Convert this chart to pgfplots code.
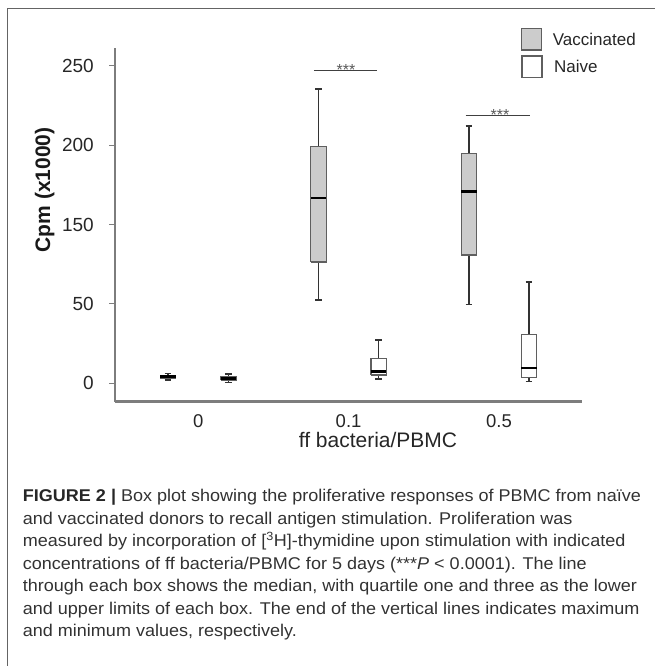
\documentclass[border=0pt]{standalone}
\usepackage{fontspec}
\setmainfont{Liberation Sans}
\newfontfamily\capfont{Liberation Sans}[FakeStretch=1.06]
\usepackage{pgfplots}
\pgfplotsset{compat=1.18}
\definecolor{boxgray}{RGB}{204,204,204}
\definecolor{edgegray}{RGB}{95,95,95}
\definecolor{axisgray}{RGB}{125,125,125}
\definecolor{captext}{RGB}{50,50,50}
\definecolor{framegray}{RGB}{100,100,100}
\pgfplotsset{
  whisk/.style={draw=black!80, line width=1.4pt, no marks},
  boxst/.style={draw=edgegray, line width=1.3pt, line join=miter, no marks},
  medst/.style={draw=black, line width=2.4pt, no marks},
}
% box: center, lower whisker, q1, median, q3, upper whisker, fill
\newcommand\bx[7]{%
  \pgfmathsetmacro\bxL{#1-0.0515}\pgfmathsetmacro\bxR{#1+0.0515}%
  \pgfmathsetmacro\bxCL{#1-0.0225}\pgfmathsetmacro\bxCR{#1+0.0225}%
  \addplot[whisk] coordinates {(#1,#2) (#1,#3)};
  \addplot[whisk] coordinates {(#1,#5) (#1,#6)};
  \addplot[whisk] coordinates {(\bxCL,#2) (\bxCR,#2)};
  \addplot[whisk] coordinates {(\bxCL,#6) (\bxCR,#6)};
  \addplot[boxst, fill=#7] coordinates {(\bxL,#3) (\bxR,#3) (\bxR,#5) (\bxL,#5) (\bxL,#3)};
  \addplot[medst] coordinates {(\bxL,#4) (\bxR,#4)};
}
\begin{document}
\begin{tikzpicture}
\useasboundingbox (0pt,0pt) rectangle (655pt,666pt);
\draw[framegray, line width=1.3pt] (7.3pt,0pt) -- (7.3pt,657.7pt) -- (655pt,657.7pt);
\begin{axis}[
  at={(115pt,264.3pt)}, anchor=south west,
  scale only axis, width=466.7pt, height=353.4pt,
  xmin=-0.553, xmax=2.55, ymin=-11.6, ymax=211,
  axis lines=left,
  axis line style={-, draw=axisgray, line width=2.4pt},
  xtick={0,1,2}, xticklabels={0,0.1,0.5},
  xtick style={draw=none},
  ytick={0,50,100,150,200}, yticklabels={0,50,150,200,250},
  ytick style={draw=axisgray, line width=1.2pt},
  tick align=outside, major tick length=6pt,
  yticklabel style={font=\fontsize{19}{20}\selectfont, text=black!85, inner sep=0pt, anchor=east, xshift=-15pt},
  xticklabel style={font=\fontsize{18.5}{20}\selectfont, text=black!85, inner sep=0pt, anchor=center, yshift=-13pt},
  clip=false,
]
% group 0
\bx{-0.2}{2.1}{3.3}{4.2}{4.9}{6.3}{boxgray}
\bx{0.2}{0.4}{2.1}{3.1}{4.3}{5.9}{boxgray}
% group 0.1
\bx{0.8}{52.5}{76.4}{116.7}{149.0}{185.3}{boxgray}
\bx{1.2}{2.7}{5.2}{7.3}{15.7}{27.3}{white}
% group 0.5
\bx{1.8}{49.7}{80.8}{120.7}{144.8}{162.0}{boxgray}
\bx{2.2}{1.3}{3.8}{9.6}{30.9}{63.8}{white}
% significance
\addplot[black!75, line width=1pt, no marks] coordinates {(0.770,196.7) (1.189,196.7)};
\addplot[black!75, line width=1pt, no marks] coordinates {(1.779,168.5) (2.206,168.5)};
\node[anchor=base, font=\fontsize{16}{16}\selectfont, text=black!65, inner sep=0pt] at (axis cs:0.983,194.0) {***};
\node[anchor=base, font=\fontsize{16}{16}\selectfont, text=black!65, inner sep=0pt] at (axis cs:2.007,165.8) {***};
\end{axis}
% axis titles
\node[rotate=90, anchor=base, inner sep=0pt, font=\bfseries\fontsize{21}{21}\selectfont, text=black!90] at (50pt,476pt) {Cpm (x1000)};
\node[anchor=base, inner sep=0pt, font=\fontsize{21}{21}\selectfont, text=black!85] at (378pt,218pt) {ff bacteria/PBMC};
% legend
\draw[edgegray, fill=boxgray, line width=1.2pt] (521.7pt,637.7pt) rectangle (541.7pt,616pt);
\draw[edgegray, fill=white, line width=1.2pt] (522pt,610pt) rectangle (542pt,588.7pt);
\node[anchor=west, inner sep=0pt, font=\fontsize{17}{17}\selectfont, text=black!85] at (552.7pt,627pt) {Vaccinated};
\node[anchor=west, inner sep=0pt, font=\fontsize{17}{17}\selectfont, text=black!85] at (554pt,599.3pt) {Naive};
% caption
\begin{scope}[every node/.style={anchor=base west, inner sep=0pt, font=\capfont\fontsize{17}{22.6}\selectfont, text=captext}]
\node at (22.7pt,164.3pt) {\textbf{\color{black!85}FIGURE 2 |} Box plot showing the proliferative responses of PBMC from naïve};
\node at (22.7pt,141.8pt) {and vaccinated donors to recall antigen stimulation. Proliferation was};
\node at (22.7pt,119.2pt) {measured by incorporation of [\textsuperscript{3}H]-thymidine upon stimulation with indicated};
\node at (22.7pt,96.7pt) {concentrations of ff bacteria/PBMC for 5 days (***\textit{P} < 0.0001). The line};
\node at (22.7pt,74.1pt) {through each box shows the median, with quartile one and three as the lower};
\node at (22.7pt,51.6pt) {and upper limits of each box. The end of the vertical lines indicates maximum};
\node at (22.7pt,29.0pt) {and minimum values, respectively.};
\end{scope}
\end{tikzpicture}
\end{document}
